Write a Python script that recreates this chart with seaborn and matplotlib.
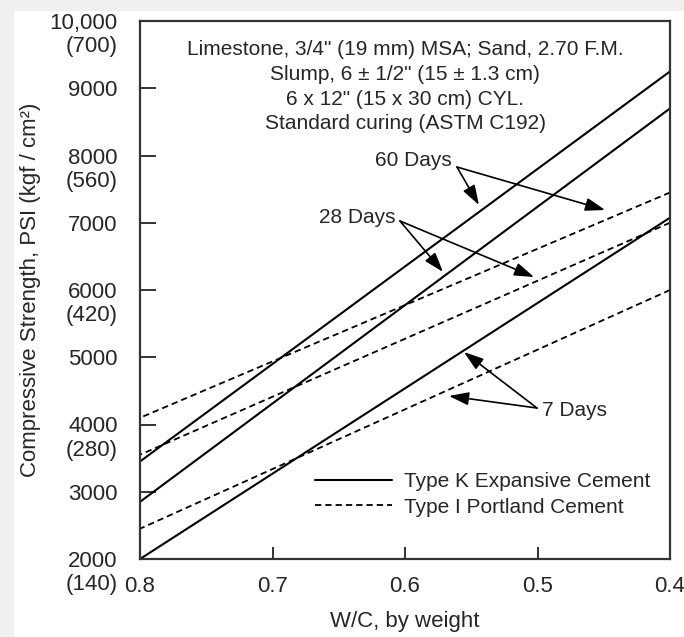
import matplotlib
matplotlib.use("Agg")
import matplotlib.pyplot as plt
from matplotlib.patches import Rectangle
import seaborn as sns

# W/C ratio endpoints (straight lines)
wc = [0.8, 0.4]

# Type K Expansive Cement (solid), psi
k_60 = [3450, 9250]
k_28 = [2850, 8700]
k_7 = [2000, 7075]

# Type I Portland Cement (dashed), psi
i_60 = [4100, 7450]
i_28 = [3550, 7000]
i_7 = [2450, 6000]

psi_ticks = [2000, 3000, 4000, 5000, 6000, 7000, 8000, 9000, 10000]
psi_labels = ["2000", "3000", "4000", "5000", "6000", "7000", "8000", "9000", "10,000"]
kgf_at = [10000, 8000, 6000, 4000, 2000]
kgf_labels = ["(700)", "(560)", "(420)", "(280)", "(140)"]
wc_ticks = [0.8, 0.7, 0.6, 0.5, 0.4]
wc_labels = ["0.8", "0.7", "0.6", "0.5", "0.4"]

note = ("Limestone, 3/4\" (19 mm) MSA; Sand, 2.70 F.M.\n"
        "Slump, 6 \u00b1 1/2\" (15 \u00b1 1.3 cm)\n"
        "6 x 12\" (15 x 30 cm) CYL.\n"
        "Standard curing (ASTM C192)")

sns.set_style("white")
plt.rcParams["font.family"] = ["Liberation Sans", "DejaVu Sans"]

fig = plt.figure(figsize=(6.84, 6.37), dpi=100)
fig.patches.append(Rectangle((0, 0), 13 / 684, 1, transform=fig.transFigure,
                             color="#f0f0f0", zorder=0))
fig.patches.append(Rectangle((0, 1 - 10 / 637), 1, 10 / 637, transform=fig.transFigure,
                             color="#f0f0f0", zorder=0))
ax = fig.add_axes([140 / 684, 1 - 559 / 637, 530 / 684, 538 / 637])

solid = dict(color="black", linewidth=1.5)
dashed = dict(color="black", linewidth=1.3, linestyle=(0, (3.5, 2.2)))

sns.lineplot(x=wc, y=k_60, ax=ax, label="Type K Expansive Cement", **solid)
sns.lineplot(x=wc, y=k_28, ax=ax, **solid)
sns.lineplot(x=wc, y=k_7, ax=ax, **solid)
sns.lineplot(x=wc, y=i_60, ax=ax, label="Type I Portland Cement", **dashed)
sns.lineplot(x=wc, y=i_28, ax=ax, **dashed)
sns.lineplot(x=wc, y=i_7, ax=ax, **dashed)

ax.set_xlim(0.8, 0.4)
ax.set_ylim(2000, 10000)
ax.set_xticks(wc_ticks)
ax.set_xticklabels(wc_labels)
ax.set_yticks(psi_ticks)
ax.set_yticklabels(psi_labels)
ax.tick_params(axis="y", direction="in", length=11.5, width=1.4, pad=16,
               labelsize=16, color="#333333", left=True)
ax.tick_params(axis="x", direction="in", length=9, width=1.4, pad=12,
               labelsize=16, color="#333333", bottom=True)
for s in ax.spines.values():
    s.set_linewidth(1.6)
    s.set_color("#333333")

for v, lab in zip(kgf_at, kgf_labels):
    ax.annotate(lab, xy=(0, v), xycoords=("axes fraction", "data"),
                xytext=(-15.8, -18.5), textcoords="offset points",
                ha="right", va="center", fontsize=16)

ax.set_xlabel("W/C, by weight", fontsize=16, labelpad=10)
ax.set_ylabel("Compressive Strength, PSI (kgf / cm\u00b2)", fontsize=16, labelpad=6)

ax.text(0.6, 9020, note, ha="center", va="center", multialignment="center",
        fontsize=15, linespacing=1.38)

arrow = dict(arrowstyle="-|>,head_length=0.6,head_width=0.2", color="black",
             lw=1.2, mutation_scale=20, shrinkA=0, shrinkB=0)

ax.text(0.5645, 7933, "60 Days", ha="right", va="center", fontsize=15)
for tgt in [(0.5442, 7264), (0.449, 7190)]:
    ax.annotate("", xy=tgt, xytext=(0.5608, 7829), arrowprops=arrow)

ax.text(0.6075, 7085, "28 Days", ha="right", va="center", fontsize=15)
for tgt in [(0.5713, 6268), (0.5026, 6193)]:
    ax.annotate("", xy=tgt, xytext=(0.6038, 7026), arrowprops=arrow)

ax.text(0.4966, 4201, "7 Days", ha="left", va="center", fontsize=15)
for tgt in [(0.5555, 5078), (0.5668, 4424)]:
    ax.annotate("", xy=tgt, xytext=(0.5004, 4245), arrowprops=arrow)

ax.legend(loc="center left", bbox_to_anchor=(0.33, 0.12), frameon=False,
          fontsize=15, handlelength=3.7, handletextpad=0.6, labelspacing=0.3,
          borderpad=0, borderaxespad=0)

fig.savefig("out.png", dpi=100, facecolor="white")
